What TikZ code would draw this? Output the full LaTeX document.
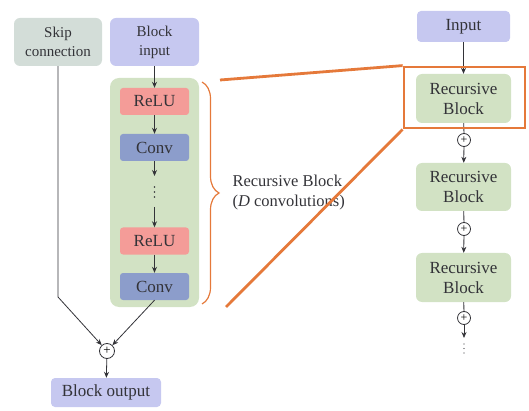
\documentclass[tikz,border=0pt]{standalone}
\usepackage{fontspec}
\setmainfont{Liberation Serif}
\usetikzlibrary{arrows.meta,decorations.pathreplacing}
\definecolor{lav}{HTML}{C6C8F0}
\definecolor{skipc}{HTML}{D3DDD8}
\definecolor{grn}{HTML}{D2E2C4}
\definecolor{relu}{HTML}{F49C98}
\definecolor{conv}{HTML}{8C9DCB}
\definecolor{orng}{HTML}{E5793A}
\definecolor{ink}{HTML}{333338}
\tikzset{
  box/.style={rounded corners=6pt, inner sep=0pt, align=center, text=ink},
  lavbox/.style={box, fill=lav},
  grnbox/.style={box, fill=grn},
  layer/.style={box, rounded corners=3pt, minimum width=69pt, minimum height=27pt, font=\fontsize{17}{19}\selectfont},
  arr/.style={draw=ink, line width=0.8pt, -{Stealth[length=6pt,width=5pt]}},
  ln/.style={draw=ink, line width=0.8pt},
  plus/.style={circle, draw=ink, line width=0.8pt, fill=white, inner sep=0pt, minimum size=15pt, font=\fontsize{13}{13}\selectfont},
  dotsl/.style={draw=ink, line width=1.6pt, line cap=round, dash pattern=on 0pt off 5pt},
  org/.style={draw=orng, line width=2.8pt}
}
\begin{document}
\begin{tikzpicture}[x=1pt,y=-1pt]
\useasboundingbox (0,0) rectangle (529,411);
% left column
\node[box, fill=skipc, minimum width=88pt, minimum height=48pt, font=\fontsize{15}{19}\selectfont] (skip) at (58,42) {Skip\\connection};
\node[lavbox, minimum width=89pt, minimum height=48pt, font=\fontsize{15}{19}\selectfont] (binput) at (154.5,42) {Block\\input};
\node[grnbox, rounded corners=9pt, minimum width=89pt, minimum height=229pt] (bg) at (154.5,192.5) {};
\node[layer, fill=relu] (relu1) at (154.5,101.5) {ReLU};
\node[layer, fill=conv] (conv1) at (154.5,147.5) {Conv};
\node[layer, fill=relu] (relu2) at (154.5,241) {ReLU};
\node[layer, fill=conv] (conv2) at (154.5,286.5) {Conv};
\coordinate (d1) at (154.5,176);
\coordinate (d2) at (154.5,187);
\coordinate (d3) at (154.5,199);
\coordinate (d4) at (154.5,207);
\coordinate (sk) at (58,297);
\node[plus] (plus) at (107,351) {+};
\node[lavbox, rounded corners=4pt, minimum width=110pt, minimum height=29pt, font=\fontsize{17}{19}\selectfont] (bout) at (106,392.5) {Block output};
\draw[arr] (binput) -- (relu1);
\draw[arr] (relu1) -- (conv1);
\draw[arr] (conv1) -- (d1);
\draw[dotsl] (d2) -- (d3);
\draw[arr] (d4) -- (relu2);
\draw[arr] (relu2) -- (conv2);
\draw[arr] (skip) -- (sk) -- (plus);
\draw[arr] (conv2.south) -- (plus);
\draw[arr] (plus) -- (bout);
% brace
\coordinate (bt) at (202,82);
\coordinate (bb) at (202,304);
\draw[orng, line width=1.2pt, decorate, decoration={brace, amplitude=17pt}] (bt) -- (bb);
\node[anchor=west, align=left, text=ink, font=\fontsize{16.5}{20}\selectfont] (btext) at (229,193) {Recursive Block\\(\textit{D} convolutions)};
% right column
\node[lavbox, rounded corners=4pt, minimum width=93pt, minimum height=31pt, font=\fontsize{17}{19}\selectfont] (input) at (463.5,26.5) {Input};
\node[grnbox, minimum width=95pt, minimum height=49pt, font=\fontsize{17}{20}\selectfont] (rb1) at (463.5,98.5) {Recursive\\Block};
\node[plus, minimum size=13pt, font=\fontsize{12}{12}\selectfont] (p1) at (464,140) {+};
\node[grnbox, minimum width=95pt, minimum height=48pt, font=\fontsize{17}{20}\selectfont] (rb2) at (463.5,187) {Recursive\\Block};
\node[plus, minimum size=13pt, font=\fontsize{12}{12}\selectfont] (p2) at (464,229) {+};
\node[grnbox, minimum width=95pt, minimum height=49pt, font=\fontsize{17}{20}\selectfont] (rb3) at (463.5,277.5) {Recursive\\Block};
\node[plus, minimum size=13pt, font=\fontsize{12}{12}\selectfont] (p3) at (464,318) {+};
\coordinate (e1) at (464,338);
\coordinate (e2) at (464,344);
\coordinate (e3) at (464,357);
\draw[arr] (input) -- (rb1);
\draw[ln] (rb1) -- (p1);
\draw[arr] (p1) -- (rb2);
\draw[ln] (rb2) -- (p2);
\draw[arr] (p2) -- (rb3);
\draw[ln] (rb3) -- (p3);
\draw[arr] (p3) -- (e1);
\draw[dotsl, line width=1.4pt, dash pattern=on 0pt off 4.5pt] (e2) -- (e3);
% orange zoom
\coordinate (zt) at (220,80);
\coordinate (zb) at (226,307);
\node[org, rectangle, minimum width=121pt, minimum height=61pt, inner sep=0pt] (zoom) at (464.5,97.5) {};
\draw[org] (zt) -- (zoom.north west);
\draw[org] (zb) -- (zoom.south west);
\end{tikzpicture}
\end{document}
